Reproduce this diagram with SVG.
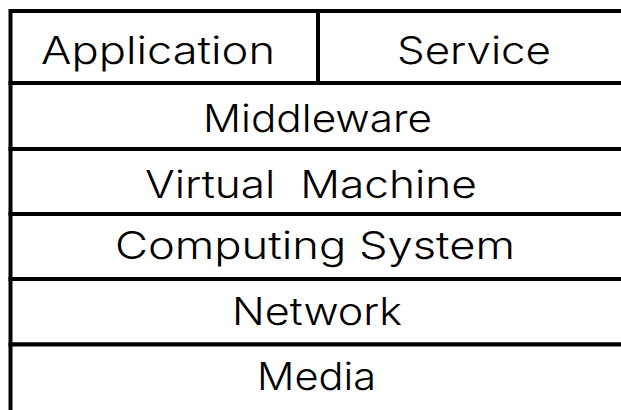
<svg xmlns="http://www.w3.org/2000/svg" width="621" height="410" viewBox="0 0 621 410">
  <style>
    .cell { fill: #ffffff; stroke: #000000; stroke-width: 4; }
    .lbl { font-family: "Inter", "Liberation Sans", "Noto Sans CJK JP", sans-serif; font-weight: 300; font-size: 38px; fill: #000000; white-space: pre; }
  </style>
  <rect x="0" y="0" width="621" height="410" fill="#ffffff"/>

  <!-- layer stack, top to bottom -->
  <g id="application">
    <rect class="cell" x="10.5" y="11" width="307.5" height="72"/>
    <text class="lbl" x="41" y="64" textLength="234" lengthAdjust="spacingAndGlyphs">Application</text>
  </g>
  <g id="service">
    <rect class="cell" x="318" y="11" width="330" height="72"/>
    <text class="lbl" x="397" y="64" textLength="154" lengthAdjust="spacingAndGlyphs">Service</text>
  </g>
  <g id="middleware">
    <rect class="cell" x="10.5" y="83" width="640" height="66"/>
    <text class="lbl" x="203" y="132" textLength="229" lengthAdjust="spacingAndGlyphs">Middleware</text>
  </g>
  <g id="virtual-machine">
    <rect class="cell" x="10.5" y="149" width="640" height="65"/>
    <text class="lbl" x="145" y="198" textLength="332" lengthAdjust="spacingAndGlyphs">Virtual  Machine</text>
  </g>
  <g id="computing-system">
    <rect class="cell" x="10.5" y="214" width="640" height="65"/>
    <text class="lbl" x="115" y="259" textLength="400" lengthAdjust="spacingAndGlyphs">Computing System</text>
  </g>
  <g id="network">
    <rect class="cell" x="10.5" y="279" width="640" height="65.5"/>
    <text class="lbl" x="232" y="325" textLength="170" lengthAdjust="spacingAndGlyphs">Network</text>
  </g>
  <g id="media">
    <rect class="cell" x="10.5" y="344.5" width="640" height="80"/>
    <text class="lbl" x="257" y="390" textLength="119" lengthAdjust="spacingAndGlyphs">Media</text>
  </g>

  <!-- no connectors in this stack -->
  <g id="connectors"/>
</svg>
